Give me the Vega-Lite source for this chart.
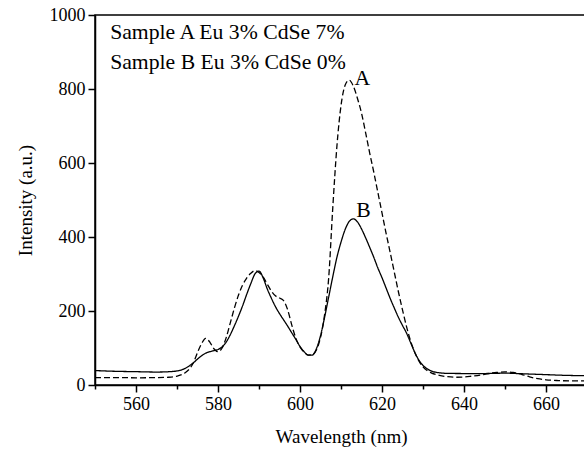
{
  "$schema": "https://vega.github.io/schema/vega-lite/v6.json",
  "width": 492,
  "height": 370,
  "autosize": {"type": "none"},
  "padding": {"left": 95, "top": 15, "right": 0, "bottom": 67},
  "background": "white",
  "config": {
    "view": {"stroke": "black", "strokeWidth": 1.5},
    "font": "Liberation Serif",
    "axis": {
      "grid": false,
      "domainColor": "black",
      "domainWidth": 1.5,
      "tickColor": "black",
      "tickWidth": 1.5,
      "labelColor": "black",
      "labelFont": "Liberation Serif",
      "labelFontSize": 18,
      "titleFont": "Liberation Serif",
      "titleFontSize": 19,
      "titleFontWeight": "normal",
      "titleColor": "black",
      "labelOverlap": false,
      "labelFlush": false
    }
  },
  "datasets": {
    "spectra": [
      {"wl": 550, "intensity": 20, "sample": "A"},
      {"wl": 555, "intensity": 20, "sample": "A"},
      {"wl": 560, "intensity": 19.5, "sample": "A"},
      {"wl": 565, "intensity": 20, "sample": "A"},
      {"wl": 568, "intensity": 21, "sample": "A"},
      {"wl": 570, "intensity": 24, "sample": "A"},
      {"wl": 572, "intensity": 33, "sample": "A"},
      {"wl": 573, "intensity": 43, "sample": "A"},
      {"wl": 574, "intensity": 60, "sample": "A"},
      {"wl": 575, "intensity": 88, "sample": "A"},
      {"wl": 576, "intensity": 112, "sample": "A"},
      {"wl": 577, "intensity": 126, "sample": "A"},
      {"wl": 578, "intensity": 116, "sample": "A"},
      {"wl": 579, "intensity": 98, "sample": "A"},
      {"wl": 580, "intensity": 90, "sample": "A"},
      {"wl": 581, "intensity": 100, "sample": "A"},
      {"wl": 582, "intensity": 128, "sample": "A"},
      {"wl": 583, "intensity": 168, "sample": "A"},
      {"wl": 584, "intensity": 208, "sample": "A"},
      {"wl": 585, "intensity": 243, "sample": "A"},
      {"wl": 586, "intensity": 270, "sample": "A"},
      {"wl": 587, "intensity": 289, "sample": "A"},
      {"wl": 588, "intensity": 302, "sample": "A"},
      {"wl": 589, "intensity": 309, "sample": "A"},
      {"wl": 590, "intensity": 304, "sample": "A"},
      {"wl": 591, "intensity": 292, "sample": "A"},
      {"wl": 592, "intensity": 273, "sample": "A"},
      {"wl": 593, "intensity": 254, "sample": "A"},
      {"wl": 594, "intensity": 241, "sample": "A"},
      {"wl": 595, "intensity": 235, "sample": "A"},
      {"wl": 596, "intensity": 228, "sample": "A"},
      {"wl": 597, "intensity": 203, "sample": "A"},
      {"wl": 598, "intensity": 162, "sample": "A"},
      {"wl": 599, "intensity": 126, "sample": "A"},
      {"wl": 600, "intensity": 103, "sample": "A"},
      {"wl": 601, "intensity": 89, "sample": "A"},
      {"wl": 602, "intensity": 81, "sample": "A"},
      {"wl": 603, "intensity": 82, "sample": "A"},
      {"wl": 604, "intensity": 95, "sample": "A"},
      {"wl": 605, "intensity": 128, "sample": "A"},
      {"wl": 606, "intensity": 190, "sample": "A"},
      {"wl": 607, "intensity": 290, "sample": "A"},
      {"wl": 608, "intensity": 480, "sample": "A"},
      {"wl": 609, "intensity": 645, "sample": "A"},
      {"wl": 610, "intensity": 755, "sample": "A"},
      {"wl": 611, "intensity": 810, "sample": "A"},
      {"wl": 612, "intensity": 824, "sample": "A"},
      {"wl": 613, "intensity": 808, "sample": "A"},
      {"wl": 614, "intensity": 775, "sample": "A"},
      {"wl": 615, "intensity": 735, "sample": "A"},
      {"wl": 616, "intensity": 682, "sample": "A"},
      {"wl": 617, "intensity": 627, "sample": "A"},
      {"wl": 618, "intensity": 575, "sample": "A"},
      {"wl": 619, "intensity": 520, "sample": "A"},
      {"wl": 620, "intensity": 465, "sample": "A"},
      {"wl": 621, "intensity": 410, "sample": "A"},
      {"wl": 622, "intensity": 358, "sample": "A"},
      {"wl": 623, "intensity": 305, "sample": "A"},
      {"wl": 624, "intensity": 252, "sample": "A"},
      {"wl": 625, "intensity": 203, "sample": "A"},
      {"wl": 626, "intensity": 157, "sample": "A"},
      {"wl": 627, "intensity": 118, "sample": "A"},
      {"wl": 628, "intensity": 88, "sample": "A"},
      {"wl": 629, "intensity": 65, "sample": "A"},
      {"wl": 630, "intensity": 49, "sample": "A"},
      {"wl": 631, "intensity": 39, "sample": "A"},
      {"wl": 632, "intensity": 33, "sample": "A"},
      {"wl": 634, "intensity": 26, "sample": "A"},
      {"wl": 636, "intensity": 22.5, "sample": "A"},
      {"wl": 638, "intensity": 21, "sample": "A"},
      {"wl": 640, "intensity": 21.5, "sample": "A"},
      {"wl": 642, "intensity": 24, "sample": "A"},
      {"wl": 644, "intensity": 27, "sample": "A"},
      {"wl": 646, "intensity": 31, "sample": "A"},
      {"wl": 648, "intensity": 34, "sample": "A"},
      {"wl": 650, "intensity": 35.5, "sample": "A"},
      {"wl": 652, "intensity": 34, "sample": "A"},
      {"wl": 654, "intensity": 29, "sample": "A"},
      {"wl": 656, "intensity": 22, "sample": "A"},
      {"wl": 658, "intensity": 17, "sample": "A"},
      {"wl": 660, "intensity": 14, "sample": "A"},
      {"wl": 663, "intensity": 12, "sample": "A"},
      {"wl": 666, "intensity": 11, "sample": "A"},
      {"wl": 670, "intensity": 11, "sample": "A"},
      {"wl": 550, "intensity": 39, "sample": "B"},
      {"wl": 555, "intensity": 37, "sample": "B"},
      {"wl": 560, "intensity": 36, "sample": "B"},
      {"wl": 565, "intensity": 35, "sample": "B"},
      {"wl": 568, "intensity": 36, "sample": "B"},
      {"wl": 570, "intensity": 38, "sample": "B"},
      {"wl": 572, "intensity": 45, "sample": "B"},
      {"wl": 574, "intensity": 60, "sample": "B"},
      {"wl": 575, "intensity": 70, "sample": "B"},
      {"wl": 576, "intensity": 79, "sample": "B"},
      {"wl": 577, "intensity": 86, "sample": "B"},
      {"wl": 578, "intensity": 90, "sample": "B"},
      {"wl": 579, "intensity": 93, "sample": "B"},
      {"wl": 580, "intensity": 96, "sample": "B"},
      {"wl": 581, "intensity": 103, "sample": "B"},
      {"wl": 582, "intensity": 116, "sample": "B"},
      {"wl": 583, "intensity": 136, "sample": "B"},
      {"wl": 584, "intensity": 160, "sample": "B"},
      {"wl": 585, "intensity": 186, "sample": "B"},
      {"wl": 586, "intensity": 214, "sample": "B"},
      {"wl": 587, "intensity": 245, "sample": "B"},
      {"wl": 588, "intensity": 274, "sample": "B"},
      {"wl": 589, "intensity": 300, "sample": "B"},
      {"wl": 590, "intensity": 308, "sample": "B"},
      {"wl": 591, "intensity": 290, "sample": "B"},
      {"wl": 592, "intensity": 260, "sample": "B"},
      {"wl": 593, "intensity": 235, "sample": "B"},
      {"wl": 594, "intensity": 212, "sample": "B"},
      {"wl": 595, "intensity": 193, "sample": "B"},
      {"wl": 596, "intensity": 176, "sample": "B"},
      {"wl": 597, "intensity": 159, "sample": "B"},
      {"wl": 598, "intensity": 141, "sample": "B"},
      {"wl": 599, "intensity": 123, "sample": "B"},
      {"wl": 600, "intensity": 104, "sample": "B"},
      {"wl": 601, "intensity": 90, "sample": "B"},
      {"wl": 602, "intensity": 81, "sample": "B"},
      {"wl": 603, "intensity": 81, "sample": "B"},
      {"wl": 604, "intensity": 98, "sample": "B"},
      {"wl": 605, "intensity": 133, "sample": "B"},
      {"wl": 606, "intensity": 183, "sample": "B"},
      {"wl": 607, "intensity": 238, "sample": "B"},
      {"wl": 608, "intensity": 293, "sample": "B"},
      {"wl": 609, "intensity": 345, "sample": "B"},
      {"wl": 610, "intensity": 386, "sample": "B"},
      {"wl": 611, "intensity": 420, "sample": "B"},
      {"wl": 612, "intensity": 442, "sample": "B"},
      {"wl": 613, "intensity": 449, "sample": "B"},
      {"wl": 614, "intensity": 441, "sample": "B"},
      {"wl": 615, "intensity": 422, "sample": "B"},
      {"wl": 616, "intensity": 398, "sample": "B"},
      {"wl": 617, "intensity": 372, "sample": "B"},
      {"wl": 618, "intensity": 345, "sample": "B"},
      {"wl": 619, "intensity": 316, "sample": "B"},
      {"wl": 620, "intensity": 290, "sample": "B"},
      {"wl": 621, "intensity": 262, "sample": "B"},
      {"wl": 622, "intensity": 234, "sample": "B"},
      {"wl": 623, "intensity": 208, "sample": "B"},
      {"wl": 624, "intensity": 183, "sample": "B"},
      {"wl": 625, "intensity": 161, "sample": "B"},
      {"wl": 626, "intensity": 140, "sample": "B"},
      {"wl": 627, "intensity": 114, "sample": "B"},
      {"wl": 628, "intensity": 88, "sample": "B"},
      {"wl": 629, "intensity": 67, "sample": "B"},
      {"wl": 630, "intensity": 53, "sample": "B"},
      {"wl": 631, "intensity": 44, "sample": "B"},
      {"wl": 632, "intensity": 38, "sample": "B"},
      {"wl": 634, "intensity": 33, "sample": "B"},
      {"wl": 636, "intensity": 31.5, "sample": "B"},
      {"wl": 640, "intensity": 31, "sample": "B"},
      {"wl": 645, "intensity": 31, "sample": "B"},
      {"wl": 650, "intensity": 32, "sample": "B"},
      {"wl": 655, "intensity": 30, "sample": "B"},
      {"wl": 660, "intensity": 28, "sample": "B"},
      {"wl": 665, "intensity": 26, "sample": "B"},
      {"wl": 670, "intensity": 25, "sample": "B"}
    ],
    "notes": [
      {"wl": 553.7, "intensity": 934, "label": "Sample A Eu 3% CdSe 7%"},
      {"wl": 553.7, "intensity": 854, "label": "Sample B Eu 3% CdSe 0%"},
      {"wl": 613.3, "intensity": 811, "label": "A"},
      {"wl": 613.7, "intensity": 453, "label": "B"}
    ]
  },
  "layer": [
    {
      "data": {"name": "spectra"},
      "mark": {"type": "line", "interpolate": "monotone", "strokeWidth": 1.3, "clip": true},
      "encoding": {
        "x": {
          "field": "wl",
          "type": "quantitative",
          "scale": {"domain": [550, 670], "nice": false, "zero": false},
          "axis": {
            "title": "Wavelength (nm)",
            "format": "d",
            "labelFont": "Liberation Serif",
            "values": [550, 560, 570, 580, 590, 600, 610, 620, 630, 640, 650, 660, 670],
            "labelExpr": "datum.value % 20 === 0 ? datum.label : ''",
            "tickSize": {"condition": {"test": "datum.value % 20 === 0", "value": 7}, "value": 4},
            "labelPadding": 3,
            "titlePadding": 14
          }
        },
        "y": {
          "field": "intensity",
          "type": "quantitative",
          "scale": {"domain": [0, 1000], "nice": false},
          "axis": {
            "title": "Intensity (a.u.)",
            "format": "d",
            "labelFont": "Liberation Serif",
            "values": [0, 100, 200, 300, 400, 500, 600, 700, 800, 900, 1000],
            "labelExpr": "datum.value % 200 === 0 ? datum.label : ''",
            "tickSize": {"condition": {"test": "datum.value % 200 === 0", "value": 7}, "value": 4},
            "labelPadding": 3,
            "titlePadding": 14
          }
        },
        "detail": {"field": "sample"},
        "color": {"value": "black"},
        "strokeDash": {
          "field": "sample",
          "type": "nominal",
          "scale": {"domain": ["A", "B"], "range": [[6, 3], [1, 0]]},
          "legend": null
        }
      }
    },
    {
      "data": {"name": "notes"},
      "mark": {"type": "text", "align": "left", "baseline": "alphabetic", "font": "Liberation Serif", "fontSize": 21.7, "color": "black"},
      "encoding": {
        "x": {"field": "wl", "type": "quantitative"},
        "y": {"field": "intensity", "type": "quantitative"},
        "text": {"field": "label"}
      }
    }
  ]
}
